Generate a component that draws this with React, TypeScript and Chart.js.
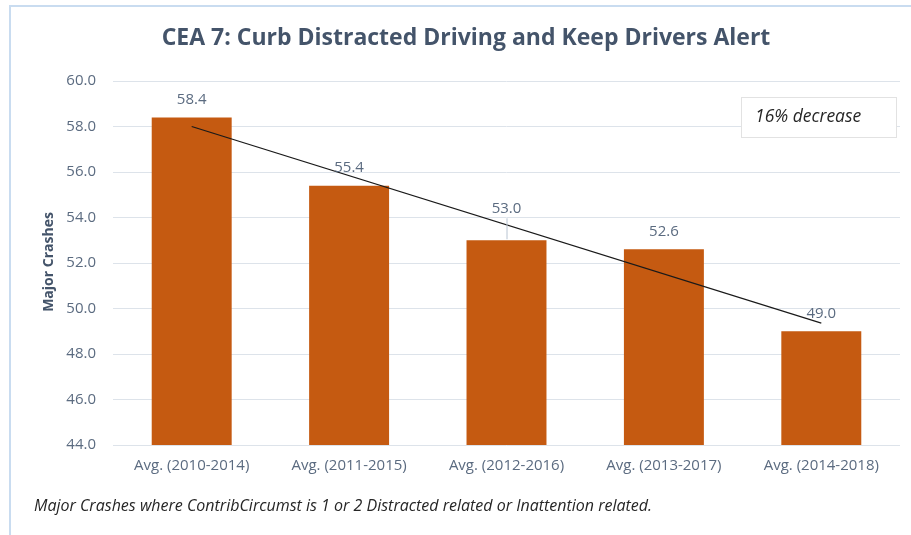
import React, { useEffect, useRef } from "react";
import { Chart, registerables } from "chart.js";

Chart.register(...registerables);

const CATEGORIES = [
  "Avg. (2010-2014)",
  "Avg. (2011-2015)",
  "Avg. (2012-2016)",
  "Avg. (2013-2017)",
  "Avg. (2014-2018)",
];
const MAJOR_CRASHES = [58.4, 55.4, 53.0, 52.6, 49.0];
// Linear trendline: start and end only
const TREND = [58.0, null, null, null, 49.36];
const Y_MIN = 44;
const Y_MAX = 60;
const Y_STEP = 2;

const TITLE = "CEA 7: Curb Distracted Driving and Keep Drivers Alert";
const Y_TITLE = "Major Crashes";
const ANNOTATION = "16% decrease";
const FOOTNOTE =
  "Major Crashes where ContribCircumst is 1 or 2 Distracted related or Inattention related.";

const LEADER_INDEX = 2;
const FONT = "'Open Sans', Lato, sans-serif";
const SLATE = "#44546A";
const TICK_COLOR = "#5b6b80";

const overlay = {
  id: "overlay",
  afterDatasetsDraw(chart: any) {
    const ctx = chart.ctx as CanvasRenderingContext2D;
    const meta = chart.getDatasetMeta(0);
    ctx.save();
    ctx.font = `15px ${FONT}`;
    ctx.fillStyle = TICK_COLOR;
    ctx.textAlign = "center";
    ctx.textBaseline = "middle";
    meta.data.forEach((bar: any, i: number) => {
      const lift = i === LEADER_INDEX ? 32 : 18;
      const y = bar.y - lift;
      ctx.fillText(MAJOR_CRASHES[i].toFixed(1), bar.x, y);
      if (i === LEADER_INDEX) {
        ctx.strokeStyle = "#b8c4d2";
        ctx.lineWidth = 1;
        ctx.beginPath();
        ctx.moveTo(bar.x + 0.5, y + 10);
        ctx.lineTo(bar.x + 0.5, bar.y - 1);
        ctx.stroke();
      }
    });
    ctx.restore();
  },
  afterDraw(chart: any) {
    const ctx = chart.ctx as CanvasRenderingContext2D;
    ctx.save();
    // title
    ctx.font = `bold 23px ${FONT}`;
    ctx.fillStyle = SLATE;
    ctx.textAlign = "center";
    ctx.textBaseline = "middle";
    ctx.fillText(TITLE, 466, 38);
    // y title
    ctx.save();
    ctx.translate(49, 262);
    ctx.rotate(-Math.PI / 2);
    ctx.font = `bold 14px ${FONT}`;
    ctx.fillText(Y_TITLE, 0, 0);
    ctx.restore();
    // annotation box
    ctx.fillStyle = "#ffffff";
    ctx.fillRect(741, 97, 155, 40);
    ctx.strokeStyle = "#e2e2e2";
    ctx.lineWidth = 1;
    ctx.strokeRect(741.5, 97.5, 155, 40);
    ctx.fillStyle = "#262626";
    ctx.font = `italic 17.5px ${FONT}`;
    ctx.textAlign = "left";
    ctx.fillText(ANNOTATION, 755, 117);
    // footnote
    ctx.font = `italic 16px ${FONT}`;
    ctx.fillText(FOOTNOTE, 34, 506);
    ctx.restore();
  },
};

export default function App() {
  const ref = useRef<HTMLCanvasElement | null>(null);
  useEffect(() => {
    document.body.style.margin = "0";
    const canvas = ref.current;
    if (!canvas) return;
    const chart = new Chart(canvas, {
      type: "bar",
      data: {
        labels: CATEGORIES,
        datasets: [
          {
            type: "bar",
            data: MAJOR_CRASHES,
            backgroundColor: "#C55A11",
            categoryPercentage: 1,
            barPercentage: 0.508,
            order: 1,
          } as any,
          {
            type: "line",
            data: TREND,
            borderColor: "#1a1a1a",
            borderWidth: 1.3,
            pointRadius: 0,
            spanGaps: true,
            fill: false,
            order: 0,
          } as any,
        ],
      },
      options: {
        animation: false,
        responsive: false,
        devicePixelRatio: 1,
        layout: { padding: { top: 81, right: 11, bottom: 50, left: 0 } },
        plugins: {
          legend: { display: false },
          tooltip: { enabled: false },
          title: { display: false },
        },
        scales: {
          x: {
            grid: { display: false, drawTicks: false },
            border: { display: false },
            ticks: {
              color: TICK_COLOR,
              font: { family: FONT, size: 15 },
              padding: 12,
              maxRotation: 0,
              autoSkip: false,
            },
            afterFit: (s: any) => {
              s.height = 40;
            },
          },
          y: {
            min: Y_MIN,
            max: Y_MAX,
            grid: { color: "#dde3ea", drawTicks: false, lineWidth: 1 },
            border: { display: false },
            ticks: {
              stepSize: Y_STEP,
              color: TICK_COLOR,
              font: { family: FONT, size: 15 },
              padding: 17,
              callback: (v: any) => Number(v).toFixed(1),
            },
            afterFit: (s: any) => {
              s.width = 113;
            },
          },
        },
      },
      plugins: [overlay],
    });
    return () => chart.destroy();
  }, []);
  return (
    <div style={{ position: "relative", width: 911, height: 535, background: "#fff" }}>
      <div
        style={{
          position: "absolute",
          left: 9,
          top: 5,
          right: 0,
          bottom: 0,
          borderLeft: "2px solid #c9dcf0",
          borderTop: "2px solid #c9dcf0",
          pointerEvents: "none",
        }}
      />
      <canvas ref={ref} width={911} height={535} style={{ position: "absolute", left: 0, top: 0 }} />
    </div>
  );
}
